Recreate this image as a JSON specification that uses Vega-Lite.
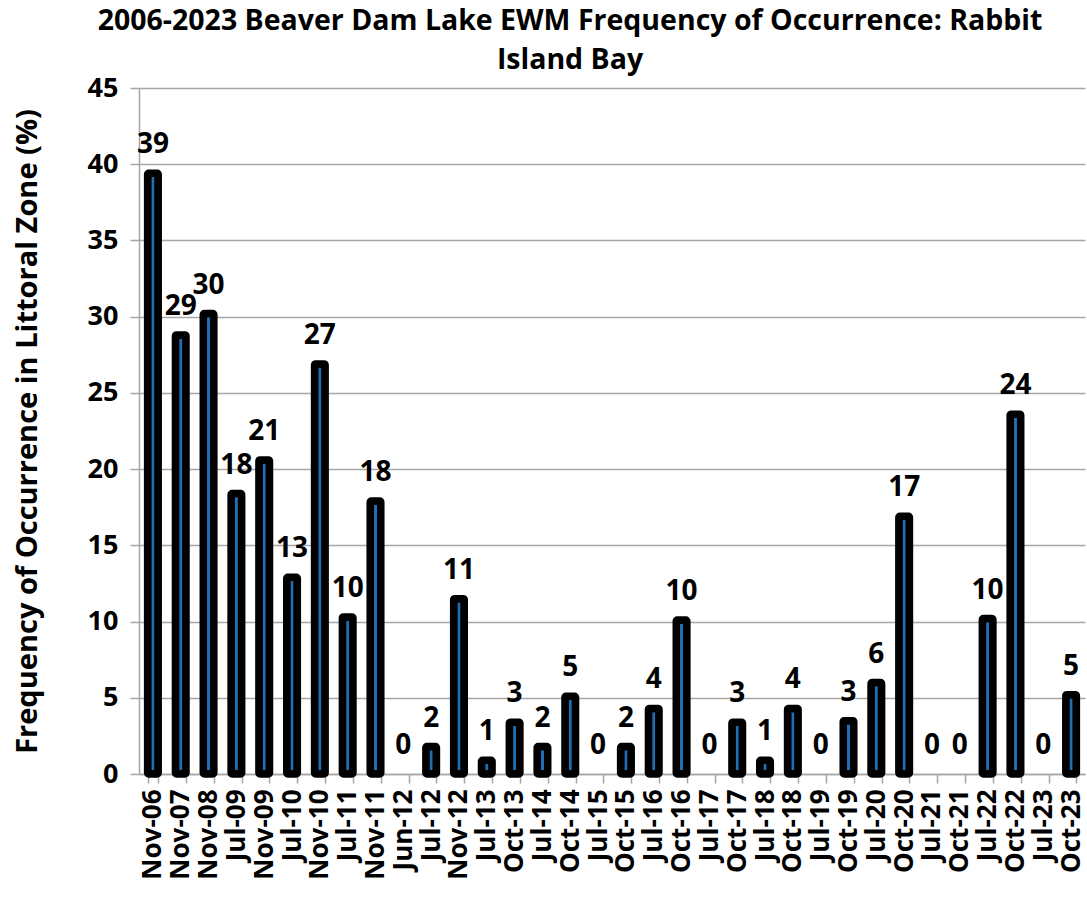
{
  "$schema": "https://vega.github.io/schema/vega-lite/v6.json",
  "width": 946,
  "height": 686,
  "padding": {"left": 139, "top": 88, "right": 2, "bottom": 127},
  "autosize": {"type": "none"},
  "background": "white",
  "title": {
    "text": ["2006-2023 Beaver Dam Lake EWM Frequency of Occurrence:  Rabbit", "Island Bay"],
    "font": "Open Sans",
    "fontSize": 28.5,
    "fontWeight": "bold",
    "color": "black",
    "lineHeight": 39,
    "anchor": "middle",
    "dx": -42,
    "offset": 0
  },
  "data": {
    "values": [
      {"date": "Nov-06", "value": 39.4, "label": "39"},
      {"date": "Nov-07", "value": 28.8, "label": "29"},
      {"date": "Nov-08", "value": 30.2, "label": "30"},
      {"date": "Jul-09", "value": 18.4, "label": "18"},
      {"date": "Nov-09", "value": 20.6, "label": "21"},
      {"date": "Jul-10", "value": 12.9, "label": "13"},
      {"date": "Nov-10", "value": 26.9, "label": "27"},
      {"date": "Jul-11", "value": 10.3, "label": "10"},
      {"date": "Nov-11", "value": 17.9, "label": "18"},
      {"date": "Jun-12", "value": 0, "label": "0"},
      {"date": "Jul-12", "value": 1.8, "label": "2"},
      {"date": "Nov-12", "value": 11.5, "label": "11"},
      {"date": "Jul-13", "value": 0.9, "label": "1"},
      {"date": "Oct-13", "value": 3.4, "label": "3"},
      {"date": "Jul-14", "value": 1.8, "label": "2"},
      {"date": "Oct-14", "value": 5.1, "label": "5"},
      {"date": "Jul-15", "value": 0, "label": "0"},
      {"date": "Oct-15", "value": 1.8, "label": "2"},
      {"date": "Jul-16", "value": 4.3, "label": "4"},
      {"date": "Oct-16", "value": 10.1, "label": "10"},
      {"date": "Jul-17", "value": 0, "label": "0"},
      {"date": "Oct-17", "value": 3.4, "label": "3"},
      {"date": "Jul-18", "value": 0.9, "label": "1"},
      {"date": "Oct-18", "value": 4.3, "label": "4"},
      {"date": "Jul-19", "value": 0, "label": "0"},
      {"date": "Oct-19", "value": 3.5, "label": "3"},
      {"date": "Jul-20", "value": 6.0, "label": "6"},
      {"date": "Oct-20", "value": 16.9, "label": "17"},
      {"date": "Jul-21", "value": 0, "label": "0"},
      {"date": "Oct-21", "value": 0, "label": "0"},
      {"date": "Jul-22", "value": 10.2, "label": "10"},
      {"date": "Oct-22", "value": 23.6, "label": "24"},
      {"date": "Jul-23", "value": 0, "label": "0"},
      {"date": "Oct-23", "value": 5.2, "label": "5"}
    ]
  },
  "encoding": {
    "x": {
      "field": "date",
      "type": "nominal",
      "sort": ["Nov-06", "Nov-07", "Nov-08", "Jul-09", "Nov-09", "Jul-10", "Nov-10", "Jul-11", "Nov-11", "Jun-12", "Jul-12", "Nov-12", "Jul-13", "Oct-13", "Jul-14", "Oct-14", "Jul-15", "Oct-15", "Jul-16", "Oct-16", "Jul-17", "Oct-17", "Jul-18", "Oct-18", "Jul-19", "Oct-19", "Jul-20", "Oct-20", "Jul-21", "Oct-21", "Jul-22", "Oct-22", "Jul-23", "Oct-23"],
      "scale": {"paddingInner": 0.62, "paddingOuter": 0.31},
      "axis": {
        "title": null,
        "labelAngle": -90,
        "labelFont": "Open Sans",
        "labelFontSize": 26,
        "labelFontWeight": "bold",
        "labelColor": "black",
        "labelPadding": 6,
        "labelOverlap": false,
        "domainColor": "#a6a6a6",
        "domainWidth": 1.5,
        "tickColor": "#a6a6a6",
        "tickWidth": 1.5,
        "tickSize": 9,
        "tickBand": "extent",
        "grid": false
      }
    },
    "y": {
      "field": "value",
      "type": "quantitative",
      "scale": {"domain": [0, 45]},
      "axis": {
        "title": "Frequency of Occurrence in Littoral Zone (%)",
        "titleFont": "Open Sans",
        "titleFontSize": 29,
        "titleFontWeight": "bold",
        "titleColor": "black",
        "titlePadding": 45,
        "values": [0, 5, 10, 15, 20, 25, 30, 35, 40, 45],
        "labelFont": "Open Sans",
        "labelFontSize": 27,
        "labelFontWeight": "bold",
        "labelColor": "black",
        "labelPadding": 12,
        "tickSize": 9,
        "tickColor": "#a6a6a6",
        "tickWidth": 1.5,
        "domainColor": "#a6a6a6",
        "domainWidth": 1.5,
        "gridColor": "#a6a6a6",
        "gridWidth": 1.5
      }
    }
  },
  "layer": [
    {
      "transform": [{"filter": "datum.value > 0"}],
      "mark": {
        "type": "bar",
        "fill": "#1f6fb4",
        "stroke": "black",
        "strokeWidth": 7.5,
        "strokeJoin": "round",
        "cornerRadius": 1
      }
    },
    {
      "mark": {
        "type": "text",
        "baseline": "alphabetic",
        "dy": -20,
        "font": "Open Sans",
        "fontSize": 28,
        "fontWeight": "bold",
        "color": "black"
      },
      "encoding": {"text": {"field": "label"}}
    }
  ],
  "config": {"view": {"stroke": null}}
}
